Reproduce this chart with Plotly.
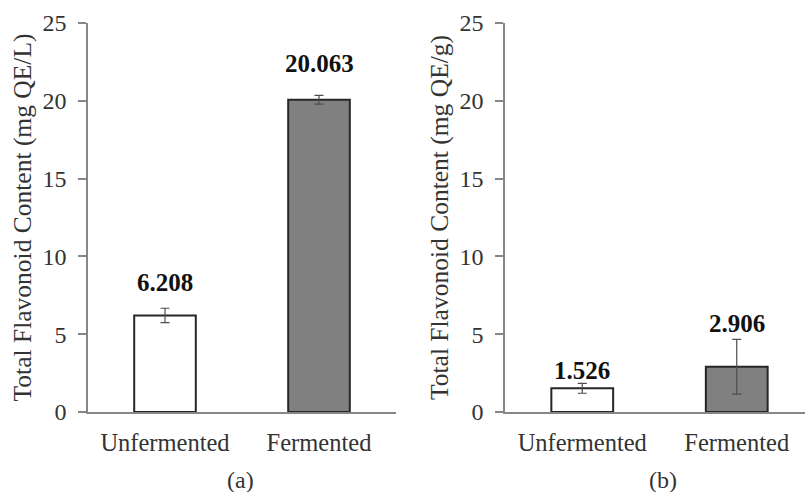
import plotly.graph_objects as go

categories = ["Unfermented", "Fermented"]
values_a = [6.208, 20.063]
errors_a = [0.46, 0.28]
values_b = [1.526, 2.906]
errors_b = [0.32, 1.76]
labels_a = ["6.208", "20.063"]
labels_b = ["1.526", "2.906"]
y_ticks = [0, 5, 10, 15, 20, 25]
panel_tags = ["(a)", "(b)"]
titles = ["Total Flavonoid Content (mg QE/L)", "Total Flavonoid Content (mg QE/g)"]

# style-only offsets for value labels (data units above the error cap)
label_off_a = [1.64, 2.07]
label_off_b = [0.79, 1.05]

W, H = 805, 492
FONT = "Liberation Serif"
bar_colors = ["#ffffff", "#808080"]
axis_col = "#868686"
text_col = "#333333"

fig = go.Figure()
for i, (vals, errs, xa, ya) in enumerate([(values_a, errors_a, "x", "y"), (values_b, errors_b, "x2", "y2")]):
    fig.add_trace(go.Bar(
        x=categories, y=vals, width=0.4,
        marker=dict(color=bar_colors, line=dict(color="#262626", width=2)),
        error_y=dict(type="data", array=errs, visible=True, color="#4d4d4d", thickness=1.2, width=4.5),
        xaxis=xa, yaxis=ya, showlegend=False, hoverinfo="skip",
    ))

y0, y1 = 1 - 412 / H, 1 - 23 / H
xa_dom = [88 / W, 396 / W]
xb_dom = [505 / W, 1.0]
range_b_end = -0.5 + 2 * (W - 505) / 309.0

common_y = dict(range=[0, 25], tickvals=y_ticks, showline=True, linecolor=axis_col, linewidth=1.5,
                ticks="outside", ticklen=8, tickcolor=axis_col, tickwidth=1.5, showgrid=False,
                zeroline=False, automargin=False,
                tickfont=dict(family=FONT, size=24, color=text_col), ticklabelstandoff=7)
common_x = dict(showline=True, linecolor=axis_col, linewidth=1.5, ticks="", showgrid=False,
                zeroline=False, automargin=False,
                tickfont=dict(family=FONT, size=24.5, color=text_col), ticklabelstandoff=8)

fig.update_layout(
    template="none",
    width=W, height=H, margin=dict(l=0, r=0, t=0, b=0, pad=0, autoexpand=False),
    paper_bgcolor="white", plot_bgcolor="white",
    font=dict(family=FONT, color=text_col),
    xaxis=dict(domain=xa_dom, anchor="y", range=[-0.5, 1.5], **common_x),
    xaxis2=dict(domain=xb_dom, anchor="y2", range=[-0.5, range_b_end], **common_x),
    yaxis=dict(domain=[y0, y1], anchor="x",
               title=dict(text=titles[0], font=dict(family=FONT, size=25.5, color=text_col), standoff=4),
               **common_y),
    yaxis2=dict(domain=[y0, y1], anchor="x2",
                title=dict(text=titles[1], font=dict(family=FONT, size=25.5, color=text_col), standoff=4),
                **common_y),
)

anns = []
for cat, v, e, o, t in zip(categories, values_a, errors_a, label_off_a, labels_a):
    anns.append(dict(x=cat, y=v + e + o, xref="x", yref="y", text="<b>%s</b>" % t, showarrow=False,
                     font=dict(family=FONT, size=25, color="#111111"), yanchor="middle"))
for cat, v, e, o, t in zip(categories, values_b, errors_b, label_off_b, labels_b):
    anns.append(dict(x=cat, y=v + e + o, xref="x2", yref="y2", text="<b>%s</b>" % t, showarrow=False,
                     font=dict(family=FONT, size=25, color="#111111"), yanchor="middle"))
for tag, xc in zip(panel_tags, [240, 663]):
    anns.append(dict(x=xc / W, y=1 - 480 / H, xref="paper", yref="paper", text=tag, showarrow=False,
                     font=dict(family=FONT, size=24, color=text_col), xanchor="center", yanchor="middle"))
fig.update_layout(annotations=anns)

fig.write_html("out.html", config={"displayModeBar": False},
               post_script="document.body.style.margin='0px';document.body.style.overflow='hidden';")
